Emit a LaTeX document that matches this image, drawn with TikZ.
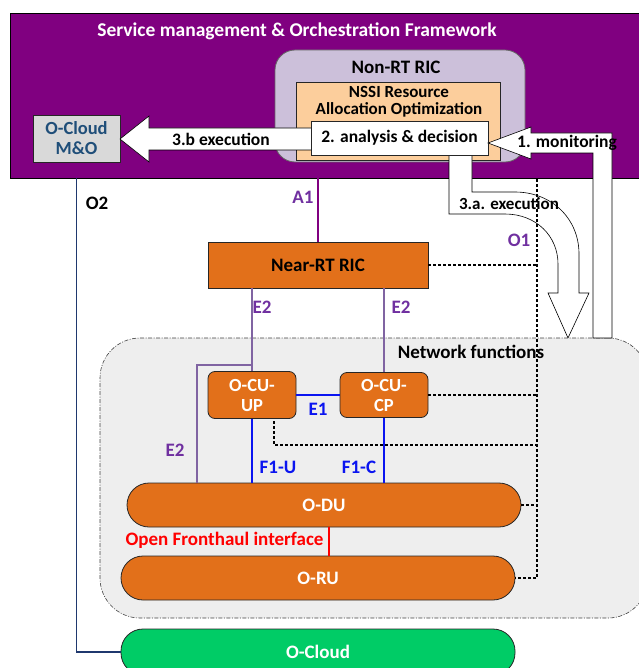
\documentclass[tikz,border=0pt]{standalone}
\usepackage{fontspec}
\setmainfont{Carlito}
\usepackage{xcolor}

\definecolor{smoPurple}{RGB}{128,0,128}
\definecolor{ricLav}{RGB}{204,192,218}
\definecolor{nssiPeach}{RGB}{252,206,156}
\definecolor{mgmtGray}{RGB}{217,217,217}
\definecolor{mgmtBlue}{RGB}{31,78,121}
\definecolor{nfOrange}{RGB}{226,112,26}
\definecolor{nfGray}{RGB}{238,238,238}
\definecolor{cloudGreen}{RGB}{0,204,102}
\definecolor{ifPurple}{RGB}{112,48,160}
\definecolor{eTwoLine}{RGB}{128,100,162}
\definecolor{ifBlue}{RGB}{10,20,240}
\definecolor{otwoBlue}{RGB}{31,56,110}

\tikzset{
  box/.style={draw=black!85, line width=0.8pt, align=center, inner sep=0pt},
  nfbox/.style={box, fill=nfOrange, text=white, rounded corners=7pt},
  pill/.style={box, fill=nfOrange, text=white, minimum width=394pt, minimum height=44pt, rounded corners=22pt},
  blockarrow/.style={draw=black, line width=0.6pt, fill=white, line join=miter},
  oneline/.style={dash pattern=on 3pt off 2pt, line width=1.5pt},
  bluelink/.style={draw=ifBlue, line width=1.7pt},
  etwolink/.style={draw=eTwoLine, line width=1.8pt},
  bigfont/.style={font=\bfseries\fontsize{19}{21}\selectfont}
}

\begin{document}
\begin{tikzpicture}[x=1pt,y=-1pt,font=\bfseries\fontsize{17.5}{19}\selectfont]
  %\draw[gray] (0,0) grid[step=50] (638,668);
  \useasboundingbox (0,0) rectangle (638,668);

  % SMO framework
  \node[draw=black, fill=smoPurple, minimum width=632pt, minimum height=165pt] (smo) at (326,95.5) {};
  \node[text=white, font=\bfseries\fontsize{19.5}{21}\selectfont] (smotitle) at (297,31) {Service management \& Orchestration Framework};

  \node[draw=black!60, fill=ricLav, line width=0.8pt, minimum width=250pt, minimum height=112pt, rounded corners=20pt] (nonrt) at (400,106) {};
  \node[bigfont] (nonrtlbl) at (396,67) {Non-RT RIC};
  \node[box, fill=nssiPeach, minimum width=204pt, minimum height=78pt] (nssi) at (398,121) {};
  \node[align=center, inner sep=0pt, font=\bfseries\fontsize{17}{16.5}\selectfont] (nssilbl) at (399,102) {NSSI Resource\\Allocation Optimization};

  \node[box, fill=mgmtGray, text=mgmtBlue, minimum width=87pt, minimum height=47pt, font=\bfseries\fontsize{18.5}{20}\selectfont] (ocmo) at (76.5,138.5) {O-Cloud\\M\&O};

  % 3.b and 3.a execution
  \draw[blockarrow] (320,128) -- (149,128) -- (149,116) -- (120,139) -- (149,162) -- (149,150) -- (320,150) -- cycle;
  \node (execb) at (221,139) {3.b execution};
  \draw[blockarrow] (449,150) -- (449,214) -- (505,214) .. controls (536,214) and (558,236) .. (558,264) -- (558,293) -- (548,293) -- (568,338) -- (589,293) -- (579,293) -- (579,254) .. controls (579,218) and (551,192) .. (515,192) -- (472,192) -- (472,150) -- cycle;

  \node[box, fill=white, minimum width=177pt, minimum height=34pt] (decide) at (399.5,138) {2. analysis \& decision};

  % Network functions
  \node[draw=black!75, fill=nfGray, dash pattern=on 4pt off 1.5pt on 1pt off 1.5pt, line width=0.6pt, minimum width=548pt, minimum height=280pt, rounded corners=40pt] (nf) at (374,478) {};
  \node[bigfont] (nflbl) at (471,352) {Network functions};

  % 1. monitoring
  \draw[blockarrow] (612,338) -- (612,133) -- (531,133) -- (531,127) -- (488,143) -- (531,159) -- (531,153) -- (593,153) -- (593,338) -- cycle;
  \node (monitor) at (567,143) {1. monitoring};
  \node[font=\bfseries\fontsize{17}{19}\selectfont] (execa) at (509,204) {3.a. execution};

  \node[box, fill=nfOrange, minimum width=220pt, minimum height=46pt, bigfont] (nearrt) at (318,265) {Near-RT RIC};
  \node[nfbox, minimum width=88pt, minimum height=47pt, font=\bfseries\fontsize{18.5}{20}\selectfont] (ocuup) at (252,395) {O-CU-\\UP};
  \node[nfbox, minimum width=88pt, minimum height=45pt, font=\bfseries\fontsize{18.5}{20}\selectfont] (ocucp) at (384,395) {O-CU-\\CP};
  \node[pill, bigfont] (odu) at (324,505) {O-DU};
  \node[pill, bigfont] (oru) at (318,578) {O-RU};
  \node[pill, bigfont, fill=cloudGreen, minimum height=46pt] (ocloud) at (318,652) {O-Cloud};

  % interfaces
  \draw[draw=smoPurple, line width=1.8pt] (nearrt.north) -- (nearrt.north |- smo.south);
  \node[text=ifPurple, bigfont] (aone) at (303,197) {A1};
  \draw[draw=otwoBlue, line width=1.4pt] (ocmo.south |- smo.south) -- (ocmo.south |- ocloud.west) -- (ocloud.west);
  \node[bigfont] (otwo) at (97,203) {O2};

  \coordinate (eknee) at (197,365);
  \draw[etwolink] (ocuup.north |- nearrt.south) -- (ocuup.north);
  \draw[etwolink] (ocuup.north |- eknee) -- (eknee) -- (eknee |- odu.north);
  \draw[etwolink] (ocucp.north |- nearrt.south) -- (ocucp.north);
  \node[text=ifPurple, bigfont] (etwoa) at (262,307) {E2};
  \node[text=ifPurple, bigfont] (etwob) at (401,307) {E2};
  \node[text=ifPurple, bigfont] (etwoc) at (175,450) {E2};

  \draw[bluelink] (ocuup.east) -- (ocucp.west);
  \node[text=ifBlue, bigfont] (eone) at (318,409) {E1};
  \draw[bluelink] (ocuup.south) -- (ocuup.south |- odu.north);
  \draw[bluelink] (ocucp.south) -- (ocucp.south |- odu.north);
  \node[text=ifBlue, bigfont] (fonu) at (278,467) {F1-U};
  \node[text=ifBlue, bigfont] (fonc) at (359,467) {F1-C};

  \draw[red, line width=1.4pt] ([xshift=5pt]odu.south) -- ([xshift=5pt]odu.south |- oru.north);
  \node[text=red, anchor=east, bigfont] (ofh) at (327,540) {Open Fronthaul interface};

  % O1
  \coordinate (oonetop) at (537,179);
  \coordinate (upknee) at (274,421);
  \draw[oneline] (oonetop) -- (oonetop |- oru.east) -- (oru.east);
  \draw[oneline] (nearrt.east) -- (nearrt.east -| oonetop);
  \draw[oneline] (ocucp.east) -- (ocucp.east -| oonetop);
  \draw[oneline] (upknee) -- ++(0,24) -| (oonetop);
  \draw[oneline] (odu.east) -- (odu.east -| oonetop);
  \node[text=ifPurple, bigfont] (oone) at (519,240) {O1};
\end{tikzpicture}
\end{document}
